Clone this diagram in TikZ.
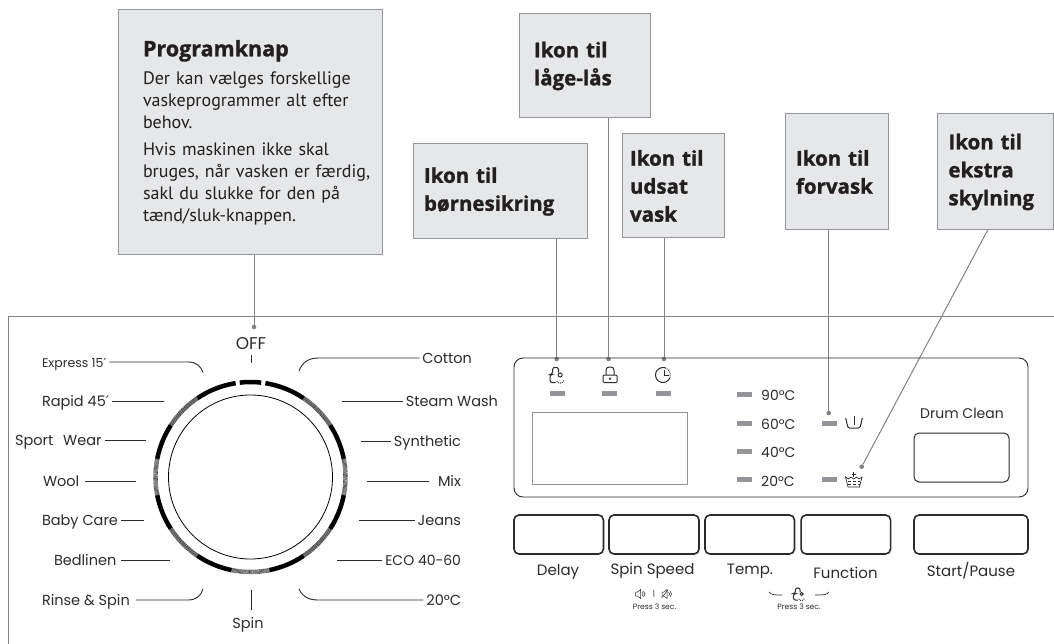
\documentclass[tikz,border=0pt]{standalone}
\usepackage{fontspec}
\setmainfont{Poppins}
\newfontfamily\calloutfont{Open Sans}[BoldFeatures={FakeBold=1.2}]
\newfontfamily\bodyfont{PT Sans}
\newfontfamily\primefont{DejaVu Sans}
\usetikzlibrary{positioning,calc}

\definecolor{boxfill}{HTML}{E6E7E8}
\definecolor{boxline}{HTML}{939598}
\definecolor{leader}{HTML}{808285}
\definecolor{ink}{HTML}{2B2B2B}
\definecolor{headink}{HTML}{231F20}

\newcommand{\ringarc}[3]{\draw[#1] (dial) ++(#2:95pt) arc (#2:#3:95pt);}

\tikzset{
    childlock/.pic={
        \draw[icon, rounded corners=2.4pt] (-1.5,7.7) -- (-7,7.7) -- (-7,-0.5) -- (-4.5,-0.5) -- (-4.5,-7.7) -- (1.5,-7.7) -- (1.5,-2.5);
        \draw[icon] (3.2,0) circle (2pt);
        \draw[icon, dash pattern=on 1pt off 1pt] (-0.2,6) .. controls (0,9) and (6.6,9) .. (7,5);
    },
    speaker/.pic={
        \draw[icon, line width=0.5pt] (-5,-2) -- (-3,-2) -- (0,-4.5) -- (0,4.5) -- (-3,2) -- (-5,2) -- cycle;
        \draw[icon, line width=0.5pt] (1.5,-2) .. controls (3,-1) and (3,1) .. (1.5,2);
        \draw[icon, line width=0.5pt] (3,-3) .. controls (5,-1) and (5,1) .. (3,3);
    }
}

\begin{document}
\begin{tikzpicture}[
    x=1pt, y=-1pt,
    callout/.style={rectangle, draw=boxline, fill=boxfill, line width=1pt, align=left, inner ysep=0pt, text=headink, font=\calloutfont\fontsize{20.5}{28}\selectfont\bfseries},
    leaderline/.style={draw=leader, line width=1pt},
    leaderdot/.style={circle, fill=leader, inner sep=0pt, minimum size=4.6pt},
    dialname/.style={inner sep=0pt, outer xsep=3pt, text height=10pt, text depth=0pt, text=ink, font=\fontsize{14.5}{16}\selectfont},
    dialline/.style={draw=ink, line width=0.9pt},
    ringsolid/.style={line width=4.5pt, draw=black},
    ringfine/.style={line width=4.5pt, draw=black!80, dash pattern=on 0.55pt off 0.55pt},
    icon/.style={draw=ink, line width=1pt},
    led/.style={rectangle, fill=boxline, inner sep=0pt, minimum width=15pt, minimum height=5pt},
    tempname/.style={anchor=west, inner sep=0pt, text=ink, font=\fontsize{14}{16}\selectfont},
    pushkey/.style={rectangle, draw=ink, line width=1.6pt, rounded corners=5pt, inner sep=0pt, minimum height=39pt},
    keyname/.style={inner sep=0pt, text=ink, font=\fontsize{15}{16}\selectfont},
    smallnote/.style={inner sep=0pt, text=ink, font=\fontsize{7.6}{8}\selectfont}
]
\useasboundingbox (0,0) rectangle (1054,644);

% Frame
\draw[leaderline] (1054,316) -- (8,316) -- (8,644);

% Callouts
\node[callout, minimum width=264pt, minimum height=245pt, text width=214pt, inner xsep=25pt, font=\bodyfont\fontsize{18}{22}\selectfont] (bProgram) at (250,132.5) {{\calloutfont\bfseries\fontsize{21.5}{22}\selectfont Programknap}\\[6pt]
    Der kan vælges forskellige\\vaskeprogrammer alt efter\\behov.\\[5pt]Hvis maskinen ikke skal\\\mbox{bruges, når vasken er færdig,}\\sakl du slukke for den på\\tænd/sluk-knappen.};
\node[callout, minimum width=174pt, minimum height=95pt, text width=152pt, inner xsep=11pt] (bChild) at (500,191.5) {Ikon til\\børnesikring};
\node[callout, minimum width=131pt, minimum height=104pt, text width=101pt, inner xsep=15pt] (bDoor) at (584.5,66) {Ikon til\\låge-lås};
\node[callout, minimum width=102pt, minimum height=104pt, text width=86pt, inner xsep=8pt] (bDelay) at (673,186) {Ikon til\\udsat\\vask};
\node[callout, minimum width=103pt, minimum height=116pt, text width=81pt, inner xsep=11pt] (bPrewash) at (836.5,172) {Ikon til\\forvask};
\node[callout, minimum width=116pt, minimum height=116pt, text width=94pt, inner xsep=11pt] (bRinse) at (995.5,172) {Ikon til\\ekstra\\skylning};

% Leader dots
\node[leaderdot] (dOff) at (254,327) {};
\node[leaderdot] (dChild) at (556.7,359) {};
\node[leaderdot] (dDoor) at (608.5,359) {};
\node[leaderdot] (dDelay) at (664,359) {};
\node[leaderdot] (dPrewash) at (828.7,413) {};
\node[leaderdot] (dRinse) at (861.7,466.7) {};

% Leaders
\draw[leaderline] (bProgram.south -| dOff) -- (dOff);
\draw[leaderline] (bChild.south -| dChild) -- (dChild);
\draw[leaderline] (bDoor.south -| dDoor) -- (dDoor);
\draw[leaderline] (bDelay.south -| dDelay) -- (dDelay);
\draw[leaderline] (bPrewash.south -| dPrewash) -- (dPrewash);
\coordinate (cRinseTop) at (987.7,230);
\draw[leaderline] (cRinseTop) -- (dRinse);

% Dial
\coordinate (dial) at (250.5,477);
\draw[draw=black, line width=0.8pt] (dial) circle (82pt);
\ringarc{ringsolid}{83.5}{96.5}
\ringarc{ringsolid}{81}{56}
\ringarc{ringfine}{56}{33}
\ringarc{ringsolid}{33}{11}
\ringarc{ringfine}{11}{-11}
\ringarc{ringsolid}{-11}{-33}
\ringarc{ringfine}{-33}{-56}
\ringarc{ringsolid}{-56}{-78.5}
\ringarc{ringfine}{-78.5}{-101.5}
\ringarc{ringsolid}{-101.5}{-124}
\ringarc{ringfine}{-124}{-147}
\ringarc{ringsolid}{-147}{-169}
\ringarc{ringfine}{-169}{-191}
\ringarc{ringsolid}{169}{147}
\ringarc{ringfine}{147}{124}
\ringarc{ringsolid}{124}{99}

% Dial names, left
\node[dialname, anchor=west] (nExpress) at (39,362) {\fontsize{12.5}{14}\selectfont Express 15{\primefont ′}};
\node[dialname, anchor=west] (nRapid) at (39,401) {Rapid 45{\primefont ′}};
\node[dialname, anchor=west] (nSport) at (12,440.5) {Sport\hspace{6pt} Wear};
\node[dialname, anchor=west] (nWool) at (40,481) {Wool};
\node[dialname, anchor=west] (nBaby) at (39,520) {Baby Care};
\node[dialname, anchor=west] (nBed) at (51,560) {Bedlinen};
\node[dialname, anchor=west] (nRinse) at (39,600) {Rinse \& Spin};

% Dial names, right
\node[dialname, anchor=east] (nCotton) at (475,358) {Cotton};
\node[dialname, anchor=east] (nSteam) at (501,401) {Steam Wash};
\node[dialname, anchor=east] (nSynth) at (464,441) {Synthetic};
\node[dialname, anchor=east] (nMix) at (464,481) {Mix};
\node[dialname, anchor=east] (nJeans) at (464,520) {Jeans};
\node[dialname, anchor=east] (nEco) at (464,560) {\fontsize{14}{16}\selectfont ECO 40-60};
\node[dialname, anchor=east] (nTwenty) at (464,600) {20°C};

% Dial names, top and bottom
\node[dialname, outer sep=0pt, font=\fontsize{17}{18}\selectfont] (nOff) at (251,344) {OFF};
\node[dialname, outer sep=0pt] (nSpin) at (248,623) {Spin};
\coordinate (tOffA) at (251,355);
\coordinate (tOffB) at (251,363);
\coordinate (tSpinA) at (251,590);
\coordinate (tSpinB) at (251,610);
\draw[dialline] (tOffA) -- (tOffB);
\draw[dialline] (tSpinA) -- (tSpinB);

% Dial lines
\coordinate (eExpress) at (203,372.5);
\coordinate (eRapid) at (164,401);
\coordinate (eSport) at (146,440.5);
\coordinate (eWool) at (136,481);
\coordinate (eBaby) at (144,520);
\coordinate (eBed) at (170,560);
\coordinate (eRinse) at (203,589);
\coordinate (eCotton) at (299,371);
\coordinate (eSteam) at (342,401);
\coordinate (eSynth) at (361,441);
\coordinate (eMix) at (367,481);
\coordinate (eJeans) at (359,520);
\coordinate (eEco) at (337,560);
\coordinate (eTwenty) at (299,589);
\draw[dialline] (nExpress.east) -- (188,362) .. controls (196,362) and (201,366) .. (eExpress);
\draw[dialline] (nRapid) -- (eRapid);
\draw[dialline] (nSport) -- (eSport);
\draw[dialline] (nWool.east) ++(3,0) -- (eWool);
\draw[dialline] (nBaby) -- (eBaby);
\draw[dialline] (nBed.east) ++(2,0) -- (eBed);
\draw[dialline] (nRinse.east) ++(3,0) -- (188,600) .. controls (196,600) and (201,596) .. (eRinse);
\draw[dialline] (nCotton.west) -- (318,358) .. controls (308,358) and (302,363) .. (eCotton);
\draw[dialline] (nSteam) -- (eSteam);
\draw[dialline] (nSynth) -- (eSynth);
\draw[dialline] (nMix.west) ++(-6,0) -- (eMix);
\draw[dialline] (nJeans) -- (eJeans);
\draw[dialline] (nEco) -- (eEco);
\draw[dialline] (nTwenty.west) -- (318,600) .. controls (308,600) and (302,596) .. (eTwenty);

% Panel
\node[rectangle, draw=ink, line width=0.9pt, rounded corners=9pt, inner sep=0pt, minimum width=514pt, minimum height=139pt] (panel) at (771,427.5) {};
\node[rectangle, draw=boxline, line width=0.9pt, inner sep=0pt, minimum width=154.5pt, minimum height=72pt] (display) at (609.75,448) {};
\node[rectangle, draw=ink, line width=1pt, rounded corners=5pt, inner sep=0pt, minimum width=95pt, minimum height=49pt] (drumkey) at (961.5,457.5) {};
\node[keyname, font=\fontsize{14}{16}\selectfont] (nDrum) at (962,413) {Drum Clean};

% Panel icons
\pic at (557,375) {childlock};
\draw[icon, rounded corners=1pt] (603,375) rectangle (617,382.5);
\draw[icon, rounded corners=3pt] (606,375) -- (606,367) -- (614,367) -- (614,375);
\fill[ink] (610,378.7) circle (1.3pt);
\draw[icon] (663,375) ++(75:7.5pt) arc (75:340:7.5pt);
\draw[icon, densely dotted] (663,375) ++(75:7.5pt) arc (75:-20:7.5pt);
\draw[icon] (664,370) -- (664,375.5) -- (668.5,375.5);
\draw[icon, rounded corners=1.5pt] (845.7,418) -- (848,428) -- (860,428) -- (862.3,418);
\draw[icon] (854,415.5) -- (854,425);
\draw[icon, line width=0.7pt] (845.5,477) -- (848.5,479) -- (851,477) -- (853.7,479) -- (856.5,477) -- (859,479) -- (862,477) -- (859.5,487) -- (848,487) -- cycle;
\draw[icon, line width=0.7pt, densely dashed] (847.5,481.5) -- (860,481.5);
\draw[icon, line width=0.7pt, densely dashed] (848,484) -- (859.5,484);
\draw[icon, line width=0.7pt] (853.7,472) -- (853.7,476.5);
\draw[icon, line width=0.7pt] (851.5,474.2) -- (856,474.2);

% Status lamps
\node[led] (lChild) at (557,393.5) {};
\node[led] (lDoor) at (609.5,393.5) {};
\node[led] (lDelay) at (663,393.5) {};
\node[led] (l90) at (744.5,394) {};
\node[led] (l60) at (744.5,423) {};
\node[led] (l40) at (744.5,451) {};
\node[led] (l20) at (744.5,479.5) {};
\node[led] (lPrewash) at (829.5,423) {};
\node[led] (lRinse) at (829.5,479.5) {};

% Temperatures
\node[tempname] (t90) at (761,395) {90°C};
\node[tempname] (t60) at (761,424) {60°C};
\node[tempname] (t40) at (761,452) {40°C};
\node[tempname] (t20) at (761,481) {20°C};

% Keys
\node[pushkey, minimum width=89.5pt] (kDelay) at (558.7,534.5) {};
\node[pushkey, minimum width=90pt] (kSpin) at (654,534.5) {};
\node[pushkey, minimum width=89.5pt] (kTemp) at (749.7,534.5) {};
\node[pushkey, minimum width=89.5pt] (kFunc) at (845.8,534.5) {};
\node[pushkey, minimum width=114pt] (kStart) at (971,534.5) {};

% Key names
\node[keyname] (nDelay) at (558,572) {Delay};
\node[keyname] (nSpeed) at (652.5,571) {Spin Speed};
\node[keyname] (nTemp) at (750,571) {Temp.};
\node[keyname] (nFunc) at (845.5,572.5) {Function};
\node[keyname] (nStart) at (971,571) {Start/Pause};

% Press notes
\pic at (640.5,594) {speaker};
\node[smallnote] (nBar) at (654,594) {|};
\pic at (667,594) {speaker};
\coordinate (xA) at (661.5,598);
\coordinate (xB) at (668,590);
\draw[icon, line width=0.5pt] (xA) -- (xB);
\node[smallnote] (nPressA) at (654.5,607) {Press 3 sec.};
\pic[scale=0.8] at (799,594) {childlock};
\coordinate (bA) at (769,592);
\coordinate (bB) at (782,595);
\coordinate (bC) at (815,595);
\coordinate (bD) at (829,592);
\draw[icon, line width=0.7pt] (bA) .. controls (771,595) and (775,595) .. (bB);
\draw[icon, line width=0.7pt] (bC) .. controls (823,595) and (827,595) .. (bD);
\node[smallnote] (nPressB) at (799,607) {Press 3 sec.};
\end{tikzpicture}
\end{document}
